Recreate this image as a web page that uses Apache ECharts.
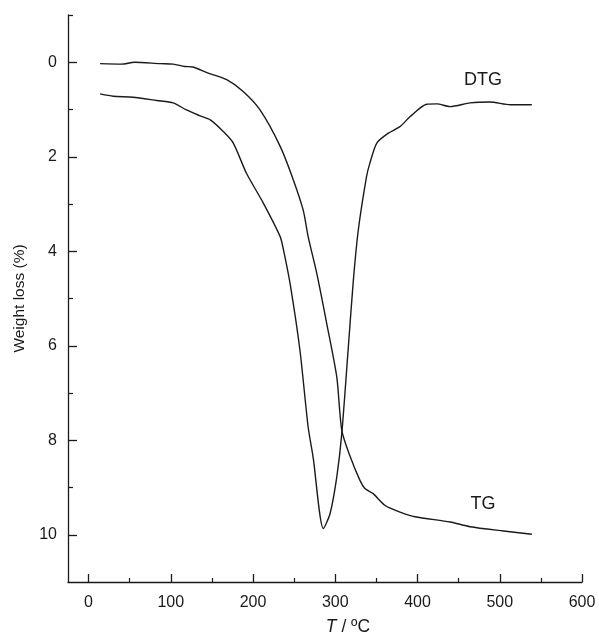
<!DOCTYPE html>
<html>
<head>
<meta charset="utf-8">
<script src="https://cdn.jsdelivr.net/npm/echarts@6/dist/echarts.min.js"></script>
<style>html,body{margin:0;padding:0;background:#fff;}#c{width:599px;height:634px;}</style>
</head>
<body>
<div id="c"></div>
<script>
// TG curve (temperature °C, weight loss %)
var tgT = [14, 40, 56, 87, 103, 117, 127, 144, 168, 188, 208.5, 233, 249, 261, 267, 277.5, 289.6, 301.8, 307.9, 318, 330, 336, 346, 360.6, 378.8, 397, 439.7, 464, 504.6, 539];
var tgW = [0.03, 0.04, 0.0, 0.03, 0.04, 0.09, 0.10, 0.22, 0.37, 0.62, 1.01, 1.78, 2.49, 3.13, 3.69, 4.47, 5.53, 6.66, 7.79, 8.34, 8.85, 9.02, 9.13, 9.38, 9.52, 9.62, 9.73, 9.83, 9.92, 9.99];
// DTG curve
var dtgT = [14, 30, 54, 83, 103, 119, 135, 148, 164, 176, 192, 212.5, 233, 237, 245, 257, 267, 273, 285.5, 293.7, 301.8, 307.9, 315.9, 322, 328, 338, 342, 350.5, 364.6, 378.8, 391, 411, 423.5, 439.7, 464, 488, 512.7, 539];
var dtgW = [0.67, 0.72, 0.74, 0.81, 0.86, 1.01, 1.13, 1.22, 1.47, 1.71, 2.35, 2.98, 3.69, 3.97, 4.68, 6.09, 7.72, 8.35, 9.87, 9.55, 8.78, 7.86, 6.02, 4.61, 3.55, 2.42, 2.14, 1.71, 1.50, 1.36, 1.15, 0.89, 0.88, 0.94, 0.86, 0.84, 0.90, 0.90];
// tick values
var xMajor = [0, 100, 200, 300, 400, 500, 600];
var xMinor = [50, 150, 250, 350, 450, 550];
var yMajor = [0, 2, 4, 6, 8, 10];
var yMinor = [-1, 1, 3, 5, 7, 9];

function pairs(a, b) { return a.map(function (v, i) { return [v, b[i]]; }); }

var font = 'Liberation Sans, Arial, sans-serif';
var ink = '#1a1a1a';
var chart = echarts.init(document.getElementById('c'));
chart.setOption({
  animation: false,
  backgroundColor: '#fff',
  grid: { left: 68, right: 17, top: 15, bottom: 52, containLabel: false, outerBoundsMode: 'none' },
  xAxis: [{
    type: 'value', min: -25, max: 600,
    name: '{i|T} / ºC', nameLocation: 'middle', nameGap: 36,
    nameTextStyle: { fontFamily: font, fontSize: 17.5, color: ink, padding: [0, 0, 0, 46],
      rich: { i: { fontStyle: 'italic', fontFamily: font, fontSize: 17.5, color: ink } } },
    axisLine: { show: true, onZero: false, lineStyle: { color: ink, width: 1.3 } },
    axisTick: { show: true, inside: true, length: 8, customValues: xMajor, lineStyle: { color: ink, width: 1.3 } },
    axisLabel: { customValues: xMajor, fontFamily: font, fontSize: 16, color: ink, margin: 13 },
    splitLine: { show: false }
  }, {
    type: 'value', min: -25, max: 600, position: 'bottom',
    axisLine: { show: false, onZero: false },
    axisTick: { show: true, inside: true, length: 4, customValues: xMinor, lineStyle: { color: ink, width: 1.2 } },
    axisLabel: { show: false },
    splitLine: { show: false }
  }],
  yAxis: [{
    type: 'value', min: -1, max: 11, inverse: true,
    name: 'Weight loss (%)', nameLocation: 'middle', nameGap: 40, nameRotate: 90,
    nameTextStyle: { fontFamily: font, fontSize: 15.5, color: ink },
    axisLine: { show: true, onZero: false, lineStyle: { color: ink, width: 1.3 } },
    axisTick: { show: true, inside: true, length: 9, customValues: yMajor, lineStyle: { color: ink, width: 1.3 } },
    axisLabel: { customValues: yMajor, fontFamily: font, fontSize: 16, color: ink, margin: 11 },
    splitLine: { show: false }
  }, {
    type: 'value', min: -1, max: 11, inverse: true, position: 'left',
    axisLine: { show: false, onZero: false },
    axisTick: { show: true, inside: true, length: 5, customValues: yMinor, lineStyle: { color: ink, width: 1.2 } },
    axisLabel: { show: false },
    splitLine: { show: false }
  }],
  series: [{
    name: 'TG', type: 'line', data: pairs(tgT, tgW), showSymbol: false, smooth: 0.25,
    lineStyle: { color: ink, width: 1.4 }
  }, {
    name: 'DTG', type: 'line', data: pairs(dtgT, dtgW), showSymbol: false, smooth: 0.25,
    lineStyle: { color: ink, width: 1.4 }
  }],
  graphic: [
    { type: 'text', x: 483, y: 80, style: { text: 'DTG', fontFamily: font, fontSize: 18, fill: ink, align: 'center', verticalAlign: 'middle' } },
    { type: 'text', x: 483, y: 504, style: { text: 'TG', fontFamily: font, fontSize: 18, fill: ink, align: 'center', verticalAlign: 'middle' } }
  ]
});
</script>
</body>
</html>
